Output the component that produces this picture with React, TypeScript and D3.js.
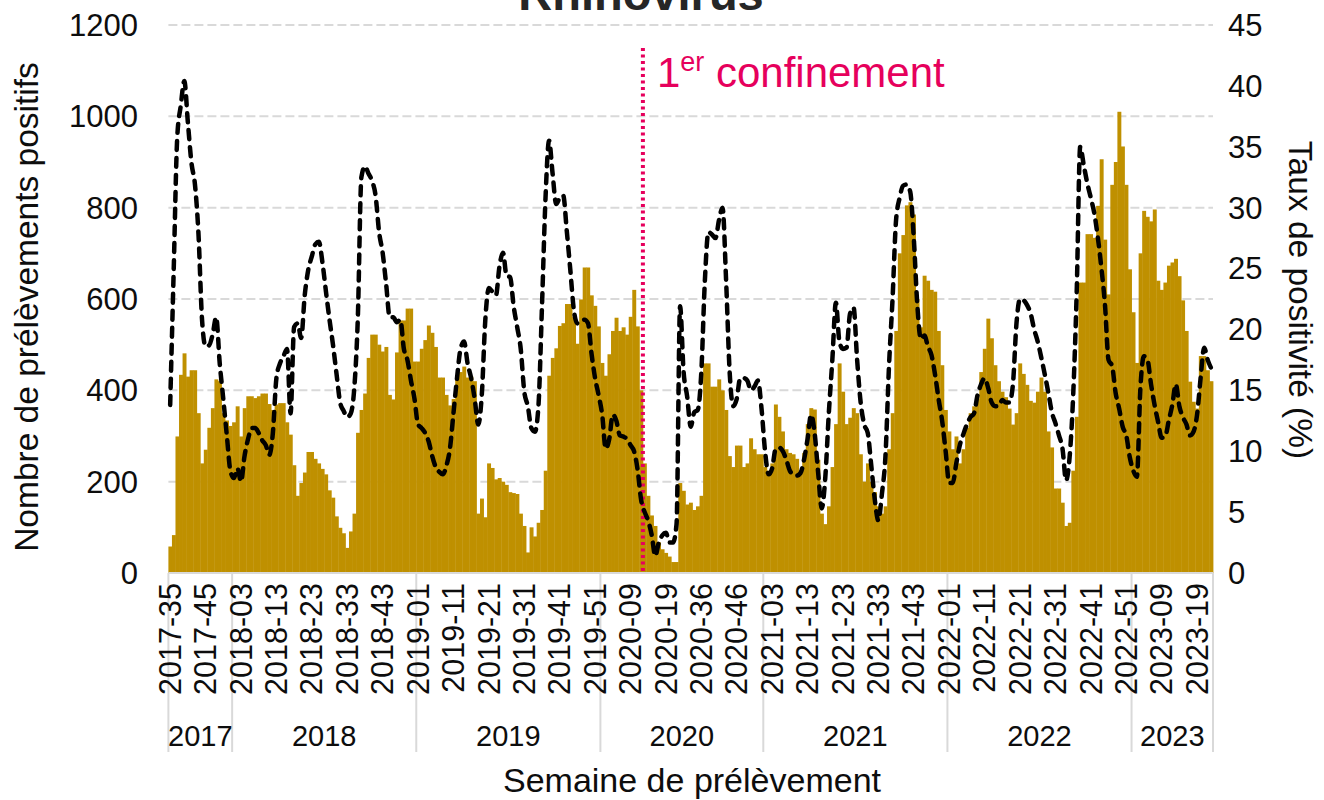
import React, { useEffect, useRef } from "react"
import * as d3 from "d3"

// semaines disponibles (pas de données 2020-29 à 2020-35)
const weeks2017 = d3.range(35, 53)
const weeks2018 = d3.range(1, 53)
const weeks2019 = d3.range(1, 53)
const weeks2020 = [...d3.range(1, 29), ...d3.range(36, 54)]
const weeks2021 = d3.range(1, 53)
const weeks2022 = d3.range(1, 53)
const weeks2023 = d3.range(1, 24)

// nombre de prélèvements positifs
const pos2017 = [58, 83, 299, 434, 481, 430, 444, 444, 350, 240, 270, 318, 361, 424, 420, 350, 334, 322]
const pos2018 = [330, 365, 299, 361, 387, 387, 383, 387, 393, 393, 370, 357, 369, 372, 372, 330, 303, 236, 169, 197,
  220, 265, 265, 250, 240, 228, 216, 181, 165, 124, 99, 87, 55, 91, 130, 307, 357, 393, 471, 522,
  522, 500, 485, 495, 390, 380, 483, 553, 553, 579, 579, 463]
const pos2019 = [463, 491, 510, 542, 526, 495, 428, 428, 390, 367, 381, 428, 440, 452, 428, 430, 420, 130, 163, 122,
  240, 230, 205, 208, 200, 193, 177, 175, 173, 130, 103, 45, 100, 80, 110, 138, 224, 432, 471, 492,
  541, 547, 589, 589, 560, 502, 599, 669, 669, 608, 585, 540]
const pos2020 = [460, 432, 479, 530, 559, 530, 538, 522, 561, 620, 540, 400, 240, 169, 126, 103, 67, 52, 44, 36,
  24, 24, 197, 180, 150, 154, 138, 146, 169, 459, 459, 408, 408, 424, 400, 357, 256, 232, 279, 279,
  232, 240, 295, 271, 260, 260]
const pos2021 = [232, 224, 240, 369, 342, 310, 271, 263, 260, 250, 224, 263, 326, 361, 358, 248, 130, 107, 146, 232,
  326, 459, 397, 326, 340, 361, 350, 260, 200, 240, 200, 177, 146, 130, 146, 271, 350, 530, 700, 740,
  805, 812, 785, 600, 538, 651, 640, 620, 616, 530, 455, 357]
const pos2022 = [310, 271, 299, 240, 271, 318, 350, 365, 381, 440, 491, 557, 514, 455, 420, 397, 385, 360, 325, 350,
  459, 436, 412, 377, 373, 397, 428, 397, 310, 275, 185, 185, 154, 103, 110, 224, 342, 636, 636, 742,
  742, 734, 804, 906, 730, 610, 850, 900, 1010, 934, 850, 665]
const pos2023 = [571, 460, 700, 793, 780, 770, 796, 640, 620, 636, 673, 680, 688, 650, 597, 530, 419, 375, 360, 475,
  475, 444, 420]

// taux de positivité (%)
const rate2017 = [13.8, 24.9, 35.8, 38.4, 40.4, 37, 33.7, 31.9, 27.8, 20.8, 18.6, 18.7, 19.6, 21, 17.2, 14.3, 11.3, 8.4]
const rate2018 = [7.8, 8.6, 7.5, 9.6, 11, 11.9, 11.9, 11.5, 10.9, 10.5, 9.7, 11.5, 16, 17.2, 17.8, 18.4, 13.1, 20.2, 20.5, 19.3,
  22.8, 24.9, 26, 27, 27.2, 25.5, 23.1, 20.8, 18.7, 16.3, 14, 13.3, 12.8, 13.1, 15.2, 21, 32.5, 33.4, 32.8, 32.2,
  31, 28, 26.3, 23.7, 21, 21, 20.6, 20.8, 18.4, 17.5, 15.8, 14.3]
const rate2019 = [12.2, 11.9, 11.5, 10.8, 9.6, 8.7, 8.3, 8.1, 8.8, 10.2, 13.1, 16, 18.4, 19, 17.2, 16, 14.3, 12.2, 14.6, 20.8,
  23.4, 23.1, 22.8, 25.2, 26.3, 24.4, 24.3, 21.9, 20.2, 18.4, 14.9, 13.7, 11.9, 11.6, 13.7, 21.9, 30.8, 35.5, 32.8, 30.3,
  30.8, 31, 28.1, 24.9, 21.6, 20.5, 20.6, 20.8, 20.5, 18, 16, 14.6]
const rate2020 = [13, 10.2, 11, 13, 12.5, 11.3, 11.2, 11, 10.5, 10, 8.5, 6, 5, 4.3, 3.1, 1.4, 2.5, 3.1, 3.3, 2.5,
  2.5, 4, 21.9, 16.5, 14.5, 12, 13.2, 13.4, 16.5, 24, 28, 27.8, 27.5, 29, 30, 24, 16.5, 13.7, 14.3, 16,
  16, 15.8, 15, 15.3, 15.8, 13.5]
const rate2021 = [10, 8.1, 8.6, 10.2, 10.3, 10, 9.3, 8.4, 8.1, 8, 8.2, 9.3, 11, 13, 11.5, 8.2, 5.3, 7.8, 13.1, 17.5,
  22.2, 19, 18.4, 18.5, 21.3, 21.8, 17.5, 14, 12.2, 11.5, 8.8, 6, 4.3, 6.5, 9.6, 17, 22.5, 29, 30.8, 31.8,
  31.9, 31.3, 27.5, 22, 19.2, 19.5, 18.6, 17.9, 16.3, 14.3, 12.5, 10]
const rate2022 = [7.4, 7.4, 9, 10.5, 11.4, 12.2, 12.8, 13.1, 14.6, 15.5, 16, 15.2, 14, 13.7, 13.7, 14.2, 14, 14, 15.5, 20.5,
  22.5, 22.4, 22, 21.3, 20, 19, 17.7, 16.3, 14.8, 13.2, 12.3, 11.3, 10.2, 7.6, 9.5, 14.5, 23, 35, 33.5, 32,
  30.8, 29.5, 27.5, 25, 22, 17.5, 17, 14.8, 13.5, 12, 11.3, 9.5]
const rate2023 = [8.4, 7.9, 15.2, 17.8, 17.5, 15.5, 13.8, 12.4, 11.1, 11.2, 12.5, 13.8, 15.5, 13.7, 12.8, 12.2, 11.3, 11.6, 13, 16,
  18.5, 17.5, 16.8]

const years = ["2017", "2018", "2019", "2020", "2021", "2022", "2023"]
const yearWeeks = [weeks2017, weeks2018, weeks2019, weeks2020, weeks2021, weeks2022, weeks2023]
const positives = [pos2017, pos2018, pos2019, pos2020, pos2021, pos2022, pos2023]
const rates = [rate2017, rate2018, rate2019, rate2020, rate2021, rate2022, rate2023]

const leftTicks = [0, 200, 400, 600, 800, 1000, 1200]
const rightTicks = [0, 5, 10, 15, 20, 25, 30, 35, 40, 45]
const lockdownWeek = "2020-12"

const font = "'Liberation Sans', Arial, sans-serif"
const gold = "#BF9000"
const pink = "#E6005C"
const grey = "#D9D9D9"

export default function App() {
  const ref = useRef<SVGSVGElement>(null)

  useEffect(() => {
    const svg = d3.select(ref.current)
    svg.selectAll("*").remove()

    const rows = years.flatMap((year, k) => yearWeeks[k].map((w, j) => ({
      week: `${year}-${String(w).padStart(2, "0")}`,
      year,
      positives: positives[k][j],
      rate: rates[k][j],
    })))

    const left = 168.4, right = 1213, top = 25, bottom = 573

    const x = d3.scaleBand()
      .domain(rows.map(d => d.week))
      .range([left, right])
      .padding(0)

    const y = d3.scaleLinear().domain([0, 1200]).range([bottom, top])
    const y2 = d3.scaleLinear().domain([0, 45]).range([bottom, top])

    // grille
    svg.append("g")
      .selectAll("line")
      .data(leftTicks.filter(t => t > 0))
      .enter()
      .append("line")
      .attr("x1", left)
      .attr("x2", right)
      .attr("y1", d => y(d))
      .attr("y2", d => y(d))
      .attr("stroke", grey)
      .attr("stroke-width", 2)
      .attr("stroke-dasharray", "9,4")

    // barres
    svg.append("g")
      .selectAll("rect")
      .data(rows)
      .enter()
      .append("rect")
      .attr("x", d => x(d.week)!)
      .attr("width", x.bandwidth() + 0.4)
      .attr("y", d => y(d.positives))
      .attr("height", d => bottom - y(d.positives))
      .attr("fill", gold)

    // axe des x + séparateurs d'années
    svg.append("line")
      .attr("x1", left).attr("x2", right)
      .attr("y1", bottom).attr("y2", bottom)
      .attr("stroke", grey).attr("stroke-width", 2)

    const bounds = years.map(year => {
      const ws = rows.filter(d => d.year === year)
      return {
        year,
        x0: x(ws[0].week)!,
        x1: x(ws[ws.length - 1].week)! + x.bandwidth(),
      }
    })
    const seps = [left, ...bounds.map(b => b.x1)]
    svg.append("g")
      .selectAll("line")
      .data(seps)
      .enter()
      .append("line")
      .attr("x1", d => d).attr("x2", d => d)
      .attr("y1", bottom).attr("y2", 752)
      .attr("stroke", grey).attr("stroke-width", 2)

    svg.append("g")
      .selectAll("text")
      .data(rows.filter((d, i) => i % 10 === 0))
      .enter()
      .append("text")
      .attr("transform", d => `translate(${x(d.week)! + x.bandwidth() / 2}, 583) rotate(-90)`)
      .attr("text-anchor", "end")
      .attr("dy", "0.35em")
      .attr("font-family", font)
      .attr("font-size", 30.5)
      .attr("fill", "#0d0d0d")
      .text(d => d.week)

    svg.append("g")
      .selectAll("text")
      .data(bounds)
      .enter()
      .append("text")
      .attr("x", d => (d.x0 + d.x1) / 2)
      .attr("y", 746)
      .attr("text-anchor", "middle")
      .attr("font-family", font)
      .attr("font-size", 29)
      .attr("fill", "#0d0d0d")
      .text(d => d.year)

    // axes y
    svg.append("g")
      .selectAll("text")
      .data(leftTicks)
      .enter()
      .append("text")
      .attr("x", 138)
      .attr("y", d => y(d))
      .attr("dy", "0.35em")
      .attr("text-anchor", "end")
      .attr("font-family", font)
      .attr("font-size", 31)
      .attr("fill", "#0d0d0d")
      .text(d => d)

    svg.append("g")
      .selectAll("text")
      .data(rightTicks)
      .enter()
      .append("text")
      .attr("x", 1228)
      .attr("y", d => y2(d))
      .attr("dy", "0.35em")
      .attr("text-anchor", "start")
      .attr("font-family", font)
      .attr("font-size", 31)
      .attr("fill", "#0d0d0d")
      .text(d => d)

    // 1er confinement
    const lx = x(lockdownWeek)! + x.bandwidth()
    svg.append("line")
      .attr("x1", lx).attr("x2", lx)
      .attr("y1", 48).attr("y2", bottom)
      .attr("stroke", pink)
      .attr("stroke-width", 4)
      .attr("stroke-dasharray", "3,3.5")

    const note = svg.append("text")
      .attr("x", lx + 14)
      .attr("y", 87)
      .attr("font-family", font)
      .attr("font-size", 42)
      .attr("fill", pink)
    note.append("tspan").text("1")
    note.append("tspan").attr("font-size", 27).attr("dy", -16).text("er")
    note.append("tspan").attr("dy", 16).text(" confinement")

    // taux de positivité
    const line = d3.line<typeof rows[number]>()
      .x(d => x(d.week)! + x.bandwidth() / 2)
      .y(d => y2(d.rate))
      .curve(d3.curveMonotoneX)

    svg.append("path")
      .datum(rows)
      .attr("fill", "none")
      .attr("stroke", "#000")
      .attr("stroke-width", 4.5)
      .attr("stroke-linecap", "round")
      .attr("stroke-dasharray", "9,8")
      .attr("d", line)

    // titres
    svg.append("text")
      .attr("x", 641)
      .attr("y", 10)
      .attr("text-anchor", "middle")
      .attr("font-family", font)
      .attr("font-weight", "bold")
      .attr("font-size", 47)
      .attr("fill", "#262626")
      .text("Rhinovirus")

    svg.append("text")
      .attr("transform", "translate(38, 307) rotate(-90)")
      .attr("text-anchor", "middle")
      .attr("font-family", font)
      .attr("font-size", 33.5)
      .attr("fill", "#0d0d0d")
      .text("Nombre de prélèvements positifs")

    svg.append("text")
      .attr("transform", "translate(1289, 300) rotate(90)")
      .attr("text-anchor", "middle")
      .attr("font-family", font)
      .attr("font-size", 33.5)
      .attr("fill", "#0d0d0d")
      .text("Taux de positivité (%)")

    svg.append("text")
      .attr("x", 692)
      .attr("y", 792)
      .attr("text-anchor", "middle")
      .attr("font-family", font)
      .attr("font-size", 34)
      .attr("fill", "#0d0d0d")
      .text("Semaine de prélèvement")
  }, [])

  return (
    <svg ref={ref} width={1324} height={800}
      style={{ position: "absolute", left: 0, top: 0, background: "#fff" }} />
  )
}
